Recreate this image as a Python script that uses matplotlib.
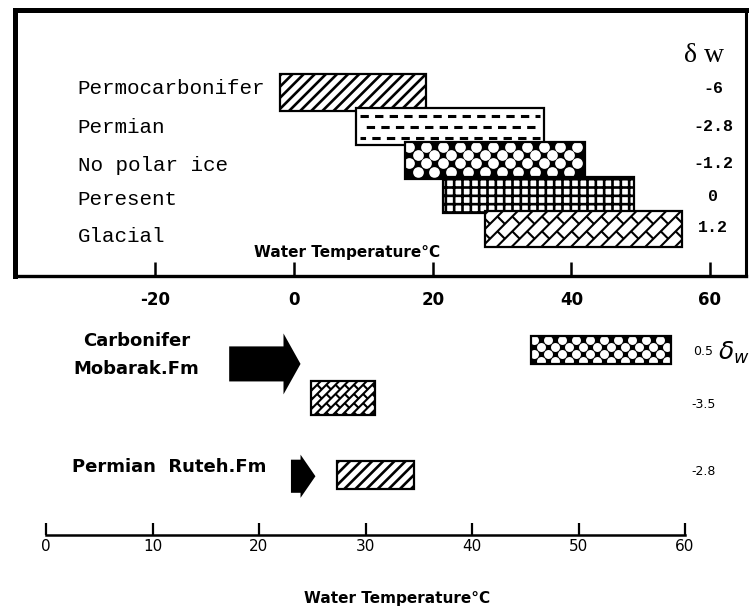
import numpy as np
import matplotlib
matplotlib.use("Agg")
import matplotlib.pyplot as plt
from matplotlib.patches import Rectangle, FancyArrow
from matplotlib.collections import LineCollection

# upper panel: palaeotemperature ranges and delta w
periods = ["Permocarbonifer", "Permian", "No polar ice", "Peresent", "Glacial"]
temp_lo = [-2, 9, 16, 21.5, 27.5]
temp_hi = [19, 36, 42, 49, 56]
delta_w = ["-6", "-2.8", "-1.2", "0", "1.2"]
fills = ["stripes", "dashes", "checker", "grid", "bricks"]
top_ticks = [-20, 0, 20, 40, 60]

# lower panel: Mobarak and Ruteh formations
formations = ["Carbonifer\nMobarak.Fm", "Permian  Ruteh.Fm"]
bot_lo = [45.5, 24.9, 27.3]
bot_hi = [58.7, 30.9, 34.6]
bot_delta = ["0.5", "-3.5", "-2.8"]
bot_fills = ["checker", "bricks", "stripes"]
arrow_from = [17.2, 23.0]
arrow_to = [23.9, 25.3]
bot_ticks = [0, 10, 20, 30, 40, 50, 60]

plt.rcParams['axes.unicode_minus'] = False
plt.rcParams['hatch.linewidth'] = 1.9
plt.rcParams['lines.scale_dashes'] = False

W, H = 756, 610
fig = plt.figure(figsize=(W / 100, H / 100), dpi=100)


def frac(x0, y0, x1, y1):
    return [x0 / W, 1 - y1 / H, (x1 - x0) / W, (y1 - y0) / H]


def px_box(ax, rect):
    x, y = rect.get_xy()
    p = ax.transData.transform([(x, y), (x + rect.get_width(), y + rect.get_height())])
    return p[:, 0].min(), p[:, 1].min(), p[:, 0].max(), p[:, 1].max()


def add_bricks(ax, rect, sp, ln, z, lw=1.5):
    bx0, by0, bx1, by1 = px_box(ax, rect)
    r2 = np.sqrt(2)
    cx = np.array([bx0, bx1, bx0, bx1])
    cy = np.array([by0, by0, by1, by1])
    u = (cx + cy) / r2
    v = (cy - cx) / r2
    segs = []
    for k in range(int(np.floor(v.min() / sp)) - 1, int(np.ceil(v.max() / sp)) + 1):
        vv = k * sp
        segs.append([(u.min() - ln, vv), (u.max() + ln, vv)])
        off = (k % 2) * ln / 2
        for uu in np.arange(np.floor(u.min() / ln) * ln - ln + off, u.max() + ln, ln):
            segs.append([(uu, vv), (uu, vv + sp)])
    out = []
    inv = ax.transData.inverted()
    for s in segs:
        s = np.array(s)
        xs = (s[:, 0] - s[:, 1]) / r2
        ys = (s[:, 0] + s[:, 1]) / r2
        out.append(inv.transform(np.column_stack([xs, ys])))
    lc = LineCollection(out, colors='black', linewidths=lw, zorder=z)
    ax.add_collection(lc)
    lc.set_clip_path(rect)


def add_checker(ax, rect, cell, z):
    bx0, by0, bx1, by1 = px_box(ax, rect)
    xs = np.arange(bx0 + cell / 2, bx1, cell)
    ys = np.arange(by1 - cell / 2, by0, -cell)
    pts = [(x, y) for j, y in enumerate(ys) for i, x in enumerate(xs) if (i + j) % 2 == 0]
    pts = ax.transData.inverted().transform(np.array(pts))
    d = cell * 1.28 * 0.72
    sc = ax.scatter(pts[:, 0], pts[:, 1], s=d ** 2, c='white', marker='o',
                    linewidths=0, zorder=z)
    sc.set_clip_path(rect)


def pattern_bar(ax, x0, x1, yc, h, kind, z, cell=8.5, hatch='///'):
    face = 'black' if kind == 'checker' else 'white'
    hh = {'stripes': hatch, 'grid': '++'}.get(kind)
    body = Rectangle((x0, yc - h / 2), x1 - x0, h, facecolor=face, edgecolor='black',
                     hatch=hh, lw=0, zorder=z)
    ax.add_patch(body)
    if kind == 'checker':
        add_checker(ax, body, cell, z + 0.1)
    elif kind == 'bricks':
        add_bricks(ax, body, cell, cell * 2.0, z + 0.1)
    elif kind == 'dashes':
        span = x1 - x0
        for f, off in zip([-0.3, 0.0, 0.3], [0, 6, 2]):
            ax.hlines(yc + f * h, x0 + 0.02 * span, x1 - 0.02 * span, colors='black',
                      lw=2.2, linestyles=[(off, (6, 4.5))], zorder=z + 0.1)
    ax.add_patch(Rectangle((x0, yc - h / 2), x1 - x0, h, facecolor='none',
                           edgecolor='black', lw=1.6, zorder=z + 0.2))


# ---------------- upper panel ----------------
ax = fig.add_axes(frac(15, 10, 746, 276))
ax.set_xlim(-40.26, 65.2)
ax.set_ylim(5.38, -2.42)
ax.set_yticks([])
ax.set_xticks(top_ticks)
ax.tick_params(axis='x', direction='in', length=10, width=1.8, pad=11, labelsize=12)
for t in ax.get_xticklabels():
    t.set_fontweight('bold')
ax.spines['top'].set_linewidth(3.6)
ax.spines['left'].set_linewidth(3.6)
ax.spines['right'].set_linewidth(2.2)
ax.spines['bottom'].set_linewidth(2.4)

rows = np.arange(len(periods))
label_y = [-0.13, 1.04, 2.13, 3.15, 4.21]
dw_y = [-0.13, 1.01, 2.07, 3.06, 3.97]
top_cell = [8.4, 8.4, 8.4, 8.4, 10.5]
for i, r in enumerate(rows):
    pattern_bar(ax, temp_lo[i], temp_hi[i], r, 1.07, fills[i], 3 + i, cell=top_cell[i])
    ax.text(-31.2, label_y[i], periods[i], family='Liberation Mono', fontsize=15,
            ha='left', va='center')
    ax.text(60.5, dw_y[i], delta_w[i], family='Liberation Mono', fontsize=12,
            fontweight='bold', ha='center', va='center')
ax.text(59.2, -1.1, "δ w", family='Liberation Serif', fontsize=20, ha='center', va='center')
fig.text(347 / W, 1 - 253 / H, "Water Temperature°C", fontsize=11, fontweight='bold',
         ha='center', va='center')

# ---------------- lower panel ----------------
bx = fig.add_axes(frac(46, 320, 685, 535))
bx.set_xlim(0, 60)
bx.set_ylim(3.854, -0.625)
bx.patch.set_alpha(0)
for s in ['top', 'left', 'right']:
    bx.spines[s].set_visible(False)
bx.spines['bottom'].set_linewidth(1.8)
bx.set_yticks([])
bx.set_xticks(bot_ticks)
bx.tick_params(axis='x', direction='in', length=9, width=1.6, pad=3, labelsize=11)

bot_rows = [0, 1.0, 2.6]
bot_h = [0.58, 0.71, 0.58]
bot_cell = [7.0, 6.5, 5.6]
for i in range(len(bot_lo)):
    pattern_bar(bx, bot_lo[i], bot_hi[i], bot_rows[i], bot_h[i], bot_fills[i], 3 + i,
                cell=bot_cell[i])
    bx.text(61.7, bot_rows[i] + [0.04, 0.13, -0.06][i], bot_delta[i], fontsize=9,
            ha='center', va='center')
bx.text(64.6, 0.05, r"$\delta_w$", fontsize=18, ha='center', va='center')

# arrows pointing at the formation ranges
arrow_y = [0.29, 2.63]
arrow_w = [0.73, 0.69]
arrow_hw = [1.27, 0.9]
arrow_hl = [1.6, 1.4]
for i in range(len(arrow_from)):
    bx.add_patch(FancyArrow(arrow_from[i], arrow_y[i], arrow_to[i] - arrow_from[i], 0,
                            width=arrow_w[i], head_width=arrow_hw[i],
                            head_length=arrow_hl[i], length_includes_head=True,
                            color='black', lw=0, zorder=5))

bx.text(8.5, 0.1, formations[0], fontsize=13, fontweight='bold', ha='center',
        va='center', linespacing=1.75)
bx.text(2.4, 2.44, formations[1], fontsize=13, fontweight='bold', ha='left', va='center')
fig.text(397 / W, 1 - 599 / H, "Water Temperature°C", fontsize=11, fontweight='bold',
         ha='center', va='center')

fig.savefig("out.png", dpi=100)
